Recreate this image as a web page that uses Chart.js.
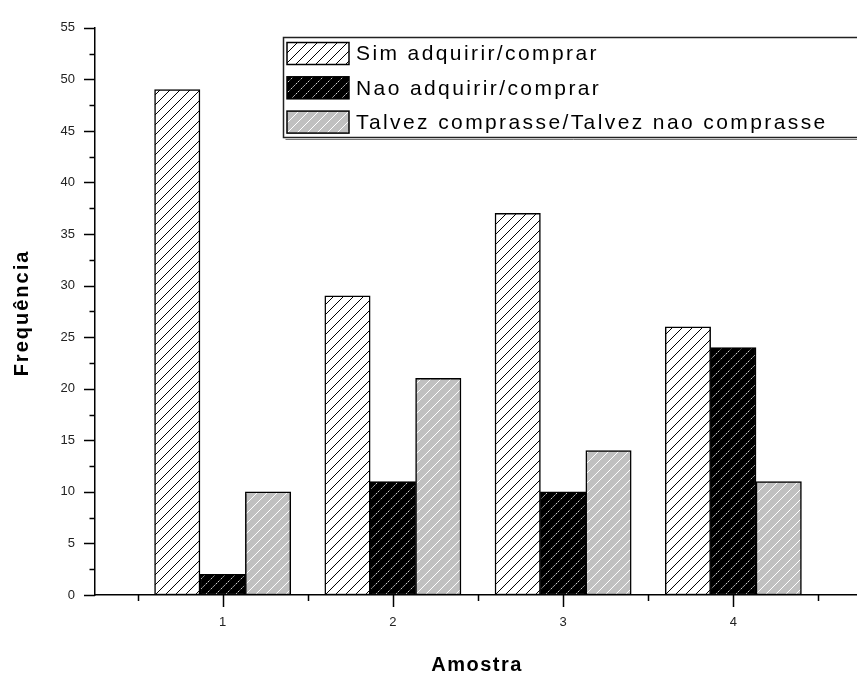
<!DOCTYPE html>
<html>
<head>
<meta charset="utf-8">
<script src="https://cdn.jsdelivr.net/npm/chart.js@4/dist/chart.umd.min.js"></script>
<style>
  html, body { margin: 0; padding: 0; overflow: hidden; background: #fff; }
  canvas { display: block; }
</style>
</head>
<body>
<canvas id="chart" width="861" height="675"></canvas>
<script>
// Survey answers per sample
const samples = [1, 2, 3, 4];
const seriesNames = ['Sim adquirir/comprar', 'Nao adquirir/comprar', 'Talvez comprasse/Talvez nao comprasse'];
const simValues = [49, 29, 37, 26];
const naoValues = [2, 11, 10, 24];
const talvezValues = [10, 21, 14, 11];

// Axis ticks (major ticks carry a label, minor ones sit half-way)
const xTickValues = [0.5, 1, 1.5, 2, 2.5, 3, 3.5, 4, 4.5];
const yTickValues = [0, 2.5, 5, 7.5, 10, 12.5, 15, 17.5, 20, 22.5, 25, 27.5, 30, 32.5, 35, 37.5, 40, 42.5, 45, 47.5, 50, 52.5, 55];
const xTitle = 'Amostra';
const yTitle = 'Frequência';

const FONT = '"Liberation Sans", Arial, sans-serif';
Chart.defaults.font.family = FONT;

const canvas = document.getElementById('chart');
const ctx = canvas.getContext('2d');

// Diagonal hatch fill: background colour with "/" strokes
function hatch(bg, fg, dash) {
  const s = 10;
  const tile = document.createElement('canvas');
  tile.width = s; tile.height = s;
  const g = tile.getContext('2d');
  g.fillStyle = bg;
  g.fillRect(0, 0, s, s);
  g.strokeStyle = fg;
  g.lineWidth = 1;
  if (dash) g.setLineDash(dash);
  g.beginPath();
  g.moveTo(-1, s + 1); g.lineTo(s + 1, -1);
  g.moveTo(-1, 1); g.lineTo(1, -1);
  g.moveTo(s - 1, s + 1); g.lineTo(s + 1, s - 1);
  g.stroke();
  return ctx.createPattern(tile, 'repeat');
}

const fills = [
  hatch('#ffffff', '#000000'),
  hatch('#000000', '#f0f0f0', [1.5, 1]),
  hatch('#c0c0c0', '#ffffff')
];
const seriesValues = [simValues, naoValues, talvezValues];

const datasets = seriesNames.map((name, i) => ({
  label: name,
  data: samples.map((s, j) => ({ x: s, y: seriesValues[i][j] })),
  backgroundColor: fills[i],
  borderColor: '#000',
  borderWidth: 1.5,
  borderSkipped: false,
  barThickness: 45.4
}));

// Tick marks of two lengths, the framed legend and the axis titles
const decorations = {
  id: 'decorations',
  afterDraw(chart) {
    const c = chart.ctx;
    const area = chart.chartArea;
    const xs = chart.scales.x, ys = chart.scales.y;
    c.save();
    c.strokeStyle = '#000';
    c.lineWidth = 1.5;
    c.beginPath();
    xs.ticks.forEach(t => {
      const px = Math.round(xs.getPixelForValue(t.value)) + 0.5;
      const len = Number.isInteger(t.value) ? 12 : 6;
      c.moveTo(px, area.bottom);
      c.lineTo(px, area.bottom + len);
    });
    ys.ticks.forEach(t => {
      const py = Math.round(ys.getPixelForValue(t.value)) + 0.5;
      const len = t.value % 5 === 0 ? 11 : 5.5;
      c.moveTo(area.left, py);
      c.lineTo(area.left - len, py);
    });
    c.stroke();

    // legend
    const box = { left: 283.5, top: 37.5, right: 875, bottom: 137.5 };
    c.fillStyle = '#fff';
    c.fillRect(box.left, box.top, box.right - box.left, box.bottom - box.top);
    c.lineWidth = 1.5;
    c.strokeStyle = '#222';
    c.strokeRect(box.left, box.top, box.right - box.left, box.bottom - box.top);
    c.strokeStyle = '#777';
    c.lineWidth = 1;
    c.beginPath();
    c.moveTo(box.left + 2, box.bottom + 2);
    c.lineTo(box.right, box.bottom + 2);
    c.stroke();

    c.font = '21px ' + FONT;
    c.textBaseline = 'middle';
    c.textAlign = 'left';
    c.letterSpacing = '2.4px';
    chart.data.datasets.forEach((ds, i) => {
      const top = 42.5 + i * 34.3;
      c.fillStyle = ds.backgroundColor;
      c.fillRect(287, top, 62, 22);
      c.strokeStyle = '#000';
      c.lineWidth = 1.5;
      c.strokeRect(287, top, 62, 22);
      c.fillStyle = '#000';
      c.fillText(ds.label, 356, top + 12);
    });

    // axis titles
    c.font = 'bold 20px ' + FONT;
    c.textAlign = 'center';
    c.fillStyle = '#000';
    c.letterSpacing = '1.5px';
    c.fillText(xTitle, 477, 665);
    c.translate(22, 313);
    c.rotate(-Math.PI / 2);
    c.letterSpacing = '2px';
    c.fillText(yTitle, 0, 0);
    c.restore();
    c.letterSpacing = '0px';
  }
};

new Chart(ctx, {
  type: 'bar',
  data: { datasets },
  options: {
    responsive: false,
    animation: false,
    layout: { padding: { top: 24, left: 0, right: 0, bottom: 0 } },
    plugins: { legend: { display: false }, tooltip: { enabled: false } },
    scales: {
      x: {
        type: 'linear',
        offset: false,
        min: 0.25,
        max: 4.75,
        afterBuildTicks: s => { s.ticks = xTickValues.map(v => ({ value: v })); },
        afterFit: s => { s.height = 80; },
        grid: { display: false, drawTicks: false },
        border: { display: true, color: '#000', width: 1.5 },
        ticks: {
          padding: 20,
          color: '#222',
          font: { size: 13 },
          maxRotation: 0,
          autoSkip: false,
          callback: v => Number.isInteger(v) ? String(v) : ''
        }
      },
      y: {
        type: 'linear',
        min: 0,
        max: 55,
        afterBuildTicks: s => { s.ticks = yTickValues.map(v => ({ value: v })); },
        afterFit: s => { s.width = 95; },
        grid: { display: false, drawTicks: false },
        border: { display: true, color: '#000', width: 1.5 },
        ticks: {
          padding: 20,
          color: '#222',
          font: { size: 13 },
          autoSkip: false,
          callback: v => v % 5 === 0 ? String(v) : ''
        }
      }
    }
  },
  plugins: [decorations]
});
</script>
</body>
</html>
